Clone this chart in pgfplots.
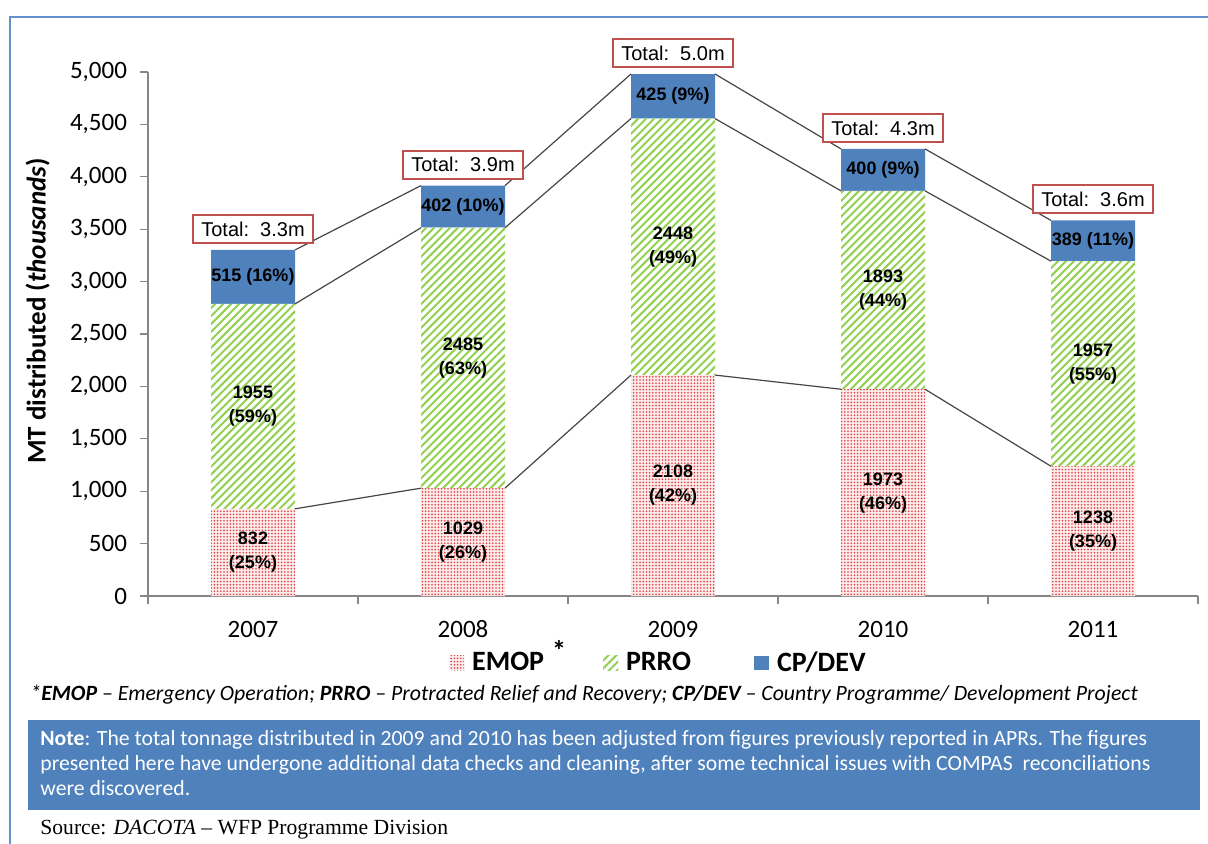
\documentclass[border=0pt]{standalone}
\usepackage{fontspec}
\setmainfont{Carlito}
\newfontfamily\arialf{Liberation Sans}
\newfontfamily\seriff{Liberation Serif}
\usepackage{pgfplots}
\pgfplotsset{compat=1.18}
\usetikzlibrary{patterns.meta}
\definecolor{cpblue}{RGB}{79,129,189}
\definecolor{prgreen}{RGB}{146,208,80}
\definecolor{emred}{RGB}{225,60,60}
\definecolor{boxred}{RGB}{192,80,77}
\definecolor{axgray}{RGB}{134,134,134}
\definecolor{frameblue}{RGB}{100,145,205}
\definecolor{seriesgray}{RGB}{70,70,70}
\begin{document}
\begin{tikzpicture}
\useasboundingbox (0,0) rectangle (604pt,-422pt);
\draw[frameblue, line width=1pt] (5pt,-422pt) -- (5pt,-8.5pt) -- (604pt,-8.5pt);
\begin{axis}[
  at={(74pt,-298pt)}, anchor=south west,
  scale only axis, width=525pt, height=262pt,
  xmin=-0.5, xmax=4.5, ymin=0, ymax=5000,
  ybar stacked, bar width=42pt,
  axis x line*=bottom, axis y line*=left,
  axis line style={axgray, line width=0.6pt},
  xtick={-0.5,0.5,1.5,2.5,3.5,4.5},
  x tick label as interval,
  xticklabels={2007,2008,2009,2010,2011},
  ytick={0,500,...,5000},
  tick align=outside, major tick length=4pt,
  tick style={axgray, line width=0.6pt},
  /pgf/number format/assume math mode=true,
  /pgf/number format/.cd, fixed, 1000 sep={,}, /pgfplots/.cd,
  yticklabel style={font=\fontsize{12.5}{14}\selectfont, xshift=-3pt},
  xticklabel style={font=\fontsize{12.5}{14}\selectfont, anchor=base, yshift=-16.5pt},
  ylabel={MT distributed (\textit{thousands})},
  every axis y label/.style={at={(axis description cs:-0.105,0.544)}, rotate=90, anchor=center, font=\bfseries\fontsize{13.5}{16}\selectfont},
  legend columns=3,
  legend style={at={(axis description cs:0.487,-0.128)}, anchor=center, draw=none, fill=none,
    font=\bfseries\fontsize{14}{16}\selectfont, /tikz/every even column/.append style={column sep=16.5pt}},
  legend image code/.code={\draw[#1, draw=none] (0pt,-3.7pt) rectangle (7.5pt,3.7pt);},
]
\addplot[draw=none, fill=emred!10, postaction={pattern={Dots[distance=1.6pt, radius=0.45pt]}, pattern color=emred}]
  coordinates {(0,832) (1,1029) (2,2108) (3,1973) (4,1238)};
\addlegendentry{\rule{2pt}{0pt}EMOP\hspace{4pt}\smash{\raisebox{5pt}{*}}}
\addplot[draw=none, fill=white, postaction={pattern={Lines[angle=45, distance=2.8pt, line width=1pt]}, pattern color=prgreen}]
  coordinates {(0,1955) (1,2485) (2,2448) (3,1893) (4,1957)};
\addlegendentry{\rule{2pt}{0pt}PRRO\rule{13pt}{0pt}}
\addplot[draw=none, fill=cpblue]
  coordinates {(0,515) (1,402) (2,425) (3,400) (4,389)};
\addlegendentry{\rule{2pt}{0pt}CP/DEV}
\end{axis}
\begin{axis}[
  at={(74pt,-298pt)}, anchor=south west,
  scale only axis, width=525pt, height=262pt,
  xmin=-0.5, xmax=4.5, ymin=0, ymax=5000,
  hide axis, clip=false, unbounded coords=jump,
]
\addplot[seriesgray, line width=0.6pt, no marks] coordinates {
 (0.2,832) (0.8,1029) (1,nan) (1.2,1029) (1.8,2108) (2,nan) (2.2,2108) (2.8,1973) (3,nan) (3.2,1973) (3.8,1238)};
\addplot[seriesgray, line width=0.6pt, no marks] coordinates {
 (0.2,2787) (0.8,3514) (1,nan) (1.2,3514) (1.8,4556) (2,nan) (2.2,4556) (2.8,3866) (3,nan) (3.2,3866) (3.8,3195)};
\addplot[seriesgray, line width=0.6pt, no marks] coordinates {
 (0.2,3302) (0.8,3916) (1,nan) (1.2,3916) (1.8,4981) (2,nan) (2.2,4981) (2.8,4266) (3,nan) (3.2,4266) (3.8,3584)};
\addplot[draw=none, no marks, nodes near coords, point meta=explicit symbolic,
  every node near coord/.append style={anchor=center, align=center, text=black, font=\arialf\bfseries\fontsize{9}{12}\selectfont}]
  coordinates {
  (0,416) [832\\(25\%)] (1,514.5) [1029\\(26\%)] (2,1054) [2108\\(42\%)] (3,986.5) [1973\\(46\%)] (4,619) [1238\\(35\%)]
  (0,1809.5) [1955\\(59\%)] (1,2271.5) [2485\\(63\%)] (2,3332) [2448\\(49\%)] (3,2919.5) [1893\\(44\%)] (4,2216.5) [1957\\(55\%)]
  (0,3044.5) [515 (16\%)] (1,3715) [402 (10\%)] (2,4768.5) [425 (9\%)] (3,4066) [400 (9\%)] (4,3389.5) [389 (11\%)]
  };
\addplot[draw=none, no marks, nodes near coords, point meta=explicit symbolic,
  every node near coord/.append style={anchor=south, yshift=3pt, draw=boxred, line width=1pt, fill=white, text=black,
    inner xsep=4pt, minimum height=13.5pt, font=\arialf\fontsize{10}{12}\selectfont}]
  coordinates {
  (0,3302) [Total:\ \ 3.3m] (1,3916) [Total:\ \ 3.9m] (2,4981) [Total:\ \ 5.0m] (3,4266) [Total:\ \ 4.3m] (4,3584) [Total:\ \ 3.6m]
  };
\end{axis}
\node[anchor=west, inner sep=0pt, font=\itshape\fontsize{10.9}{13}\selectfont] at (15pt,-347.5pt)
  {*\textbf{EMOP} – Emergency Operation; \textbf{PRRO} – Protracted Relief and Recovery; \textbf{CP/DEV} – Country Programme/ Development Project};
\fill[cpblue] (14pt,-360pt) rectangle (600pt,-405pt);
\node[anchor=north west, inner sep=0pt, align=left, text=white, font=\fontsize{10.86}{12.6}\selectfont] at (20pt,-365pt)
  {\textbf{Note}: The total tonnage distributed in 2009 and 2010 has been adjusted from figures previously reported in APRs. The figures\\
   presented here have undergone additional data checks and cleaning, after some technical issues with COMPAS\ \ reconciliations\\
   were discovered.};
\node[anchor=west, inner sep=0pt, font=\seriff\fontsize{10.8}{13}\selectfont] at (20pt,-415pt)
  {Source: \textit{DACOTA} – WFP Programme Division};
\end{tikzpicture}
\end{document}
